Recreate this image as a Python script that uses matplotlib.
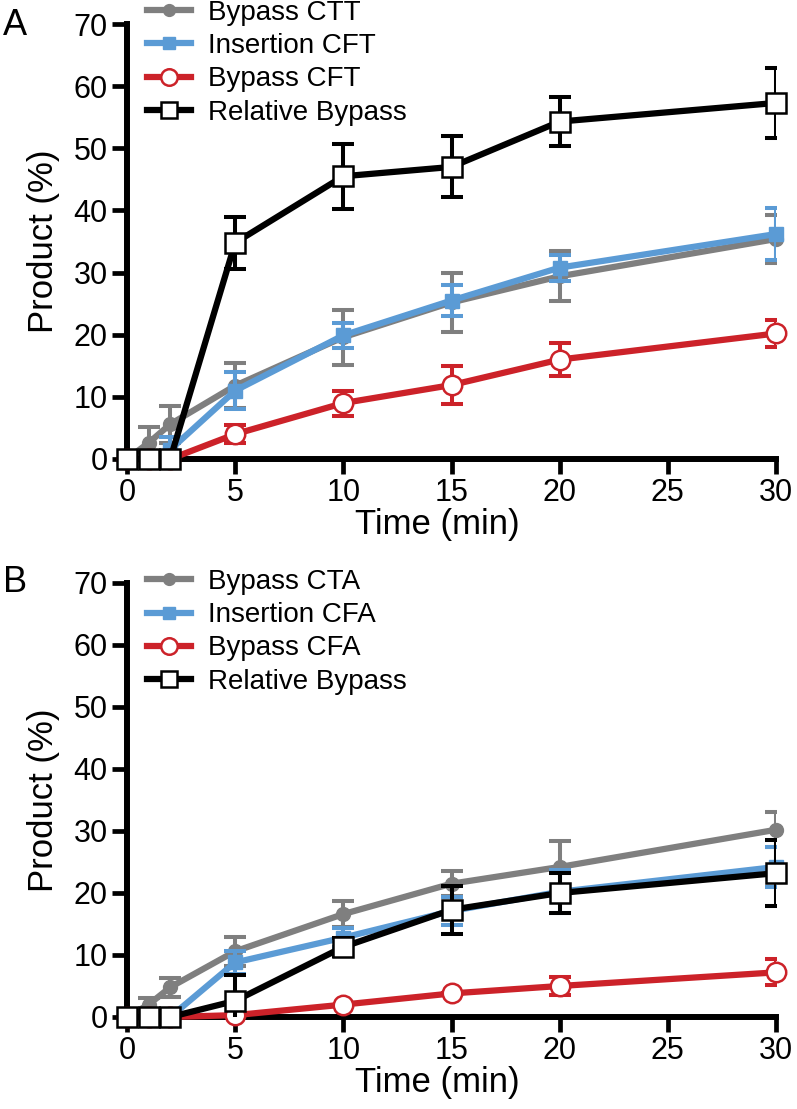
import numpy as np
import matplotlib.pyplot as plt
from matplotlib.lines import Line2D

plt.rcParams['font.family'] = ['Liberation Sans', 'DejaVu Sans']

time = [0, 1, 2, 5, 10, 15, 20, 30]

# panel A
a_labels = ['Bypass CTT', 'Insertion CFT', 'Bypass CFT', 'Relative Bypass']
a_bypass_ctt = [0, 2.6, 5.6, 11.8, 19.6, 25.2, 29.4, 35.4]
a_bypass_ctt_err = [0, 2.6, 3.0, 3.6, 4.4, 4.8, 4.0, 3.8]
a_insert_cft = [0, 0, 1.5, 11.0, 19.9, 25.5, 30.8, 36.2]
a_insert_cft_err = [0, 0, 2.0, 3.0, 2.0, 2.5, 2.1, 4.2]
a_bypass_cft = [0, 0, 0, 4.0, 9.0, 11.9, 16.0, 20.2]
a_bypass_cft_err = [0, 0, 0, 1.5, 2.0, 3.0, 2.7, 2.1]
a_relative = [0, 0, 0, 34.8, 45.5, 47.0, 54.3, 57.3]
a_relative_err = [0, 0, 0, 4.2, 5.2, 4.9, 4.0, 5.7]

# panel B
b_labels = ['Bypass CTA', 'Insertion CFA', 'Bypass CFA', 'Relative Bypass']
b_bypass_cta = [0, 2.0, 4.8, 10.6, 16.6, 21.5, 24.2, 30.2]
b_bypass_cta_err = [0, 1.0, 1.5, 2.3, 2.1, 2.0, 4.2, 2.8]
b_insert_cfa = [0, 0, 0, 8.8, 12.8, 17.1, 20.2, 24.2]
b_insert_cfa_err = [0, 0, 0, 1.8, 1.5, 2.3, 3.5, 3.2]
b_bypass_cfa = [0, 0, 0, 0.3, 2.0, 3.8, 5.0, 7.2]
b_bypass_cfa_err = [0, 0, 0, 0, 0, 0, 1.5, 2.1]
b_relative = [0, 0, 0, 2.6, 11.3, 17.3, 20.0, 23.2]
b_relative_err = [0, 0, 0, 4.2, 1.5, 3.9, 3.3, 5.3]

gray = '#7f7f7f'
blue = '#5b9bd5'
red = '#cc2229'
styles = [
    dict(color=gray, marker='o', mfc=gray, mec=gray, ms=10),
    dict(color=blue, marker='s', mfc=blue, mec=blue, ms=10),
    dict(color=red, marker='o', mfc='white', mec=red, ms=14, mew=1.8),
    dict(color='black', marker='s', mfc='white', mec='black', ms=14, mew=1.8),
]

fig = plt.figure(figsize=(7.97, 11.09), dpi=100)
ax_a = fig.add_axes([127/797, 1 - 459/1109, 649/797, 435/1109])
ax_b = fig.add_axes([127/797, 1 - 1017/1109, 649/797, 434/1109])


def draw_panel(ax, series, errors, labels, legend_top):
    for i, (y, e) in enumerate(zip(series, errors)):
        st = styles[i]
        ax.errorbar(time, y, yerr=e, fmt='none', ecolor=st['color'],
                    elinewidth=2.9, capsize=8, capthick=2.9, zorder=2 + i)
        ax.plot(time, y, color=st['color'], lw=4.5, marker=st['marker'],
                mfc=st['mfc'], mec=st['mec'], ms=st['ms'], mew=st.get('mew', 1),
                clip_on=False, zorder=2.5 + i)
    ax.set_xlim(0, 30)
    ax.set_ylim(0, 70)
    ax.set_xticks([0, 5, 10, 15, 20, 25, 30])
    ax.set_yticks(np.arange(0, 71, 10))
    for s in ['top', 'right']:
        ax.spines[s].set_visible(False)
    for s in ['left', 'bottom']:
        ax.spines[s].set_linewidth(4.3)
    ax.tick_params(width=3.4, length=11, labelsize=22, pad=3)
    ax.set_xlabel('Time (min)', fontsize=25)
    ax.xaxis.set_label_coords(0.478, -0.112)
    ax.set_ylabel('Product (%)', fontsize=25, labelpad=10)
    handles = [Line2D([], [], color=st['color'], lw=4.5, marker=st['marker'],
                      mfc=st['mfc'], mec=st['mec'], ms=st['ms'] * 0.85,
                      mew=st.get('mew', 1)) for st in styles]
    ax.legend(handles, labels, loc='upper left', frameon=False, fontsize=20,
              handlelength=1.6, handletextpad=0.6, labelspacing=0.26,
              borderpad=0, borderaxespad=0,
              bbox_to_anchor=(147/797, legend_top), bbox_transform=fig.transFigure)


draw_panel(ax_a, [a_bypass_ctt, a_insert_cft, a_bypass_cft, a_relative],
           [a_bypass_ctt_err, a_insert_cft_err, a_bypass_cft_err, a_relative_err],
           a_labels, 1 - 0/1109)
draw_panel(ax_b, [b_bypass_cta, b_insert_cfa, b_bypass_cfa, b_relative],
           [b_bypass_cta_err, b_insert_cfa_err, b_bypass_cfa_err, b_relative_err],
           b_labels, 1 - 569/1109)

fig.text(0.004, 1 - 8/1109, 'A', fontsize=26, va='top')
fig.text(0.004, 1 - 565/1109, 'B', fontsize=26, va='top')

fig.savefig('out.png', dpi=100)
